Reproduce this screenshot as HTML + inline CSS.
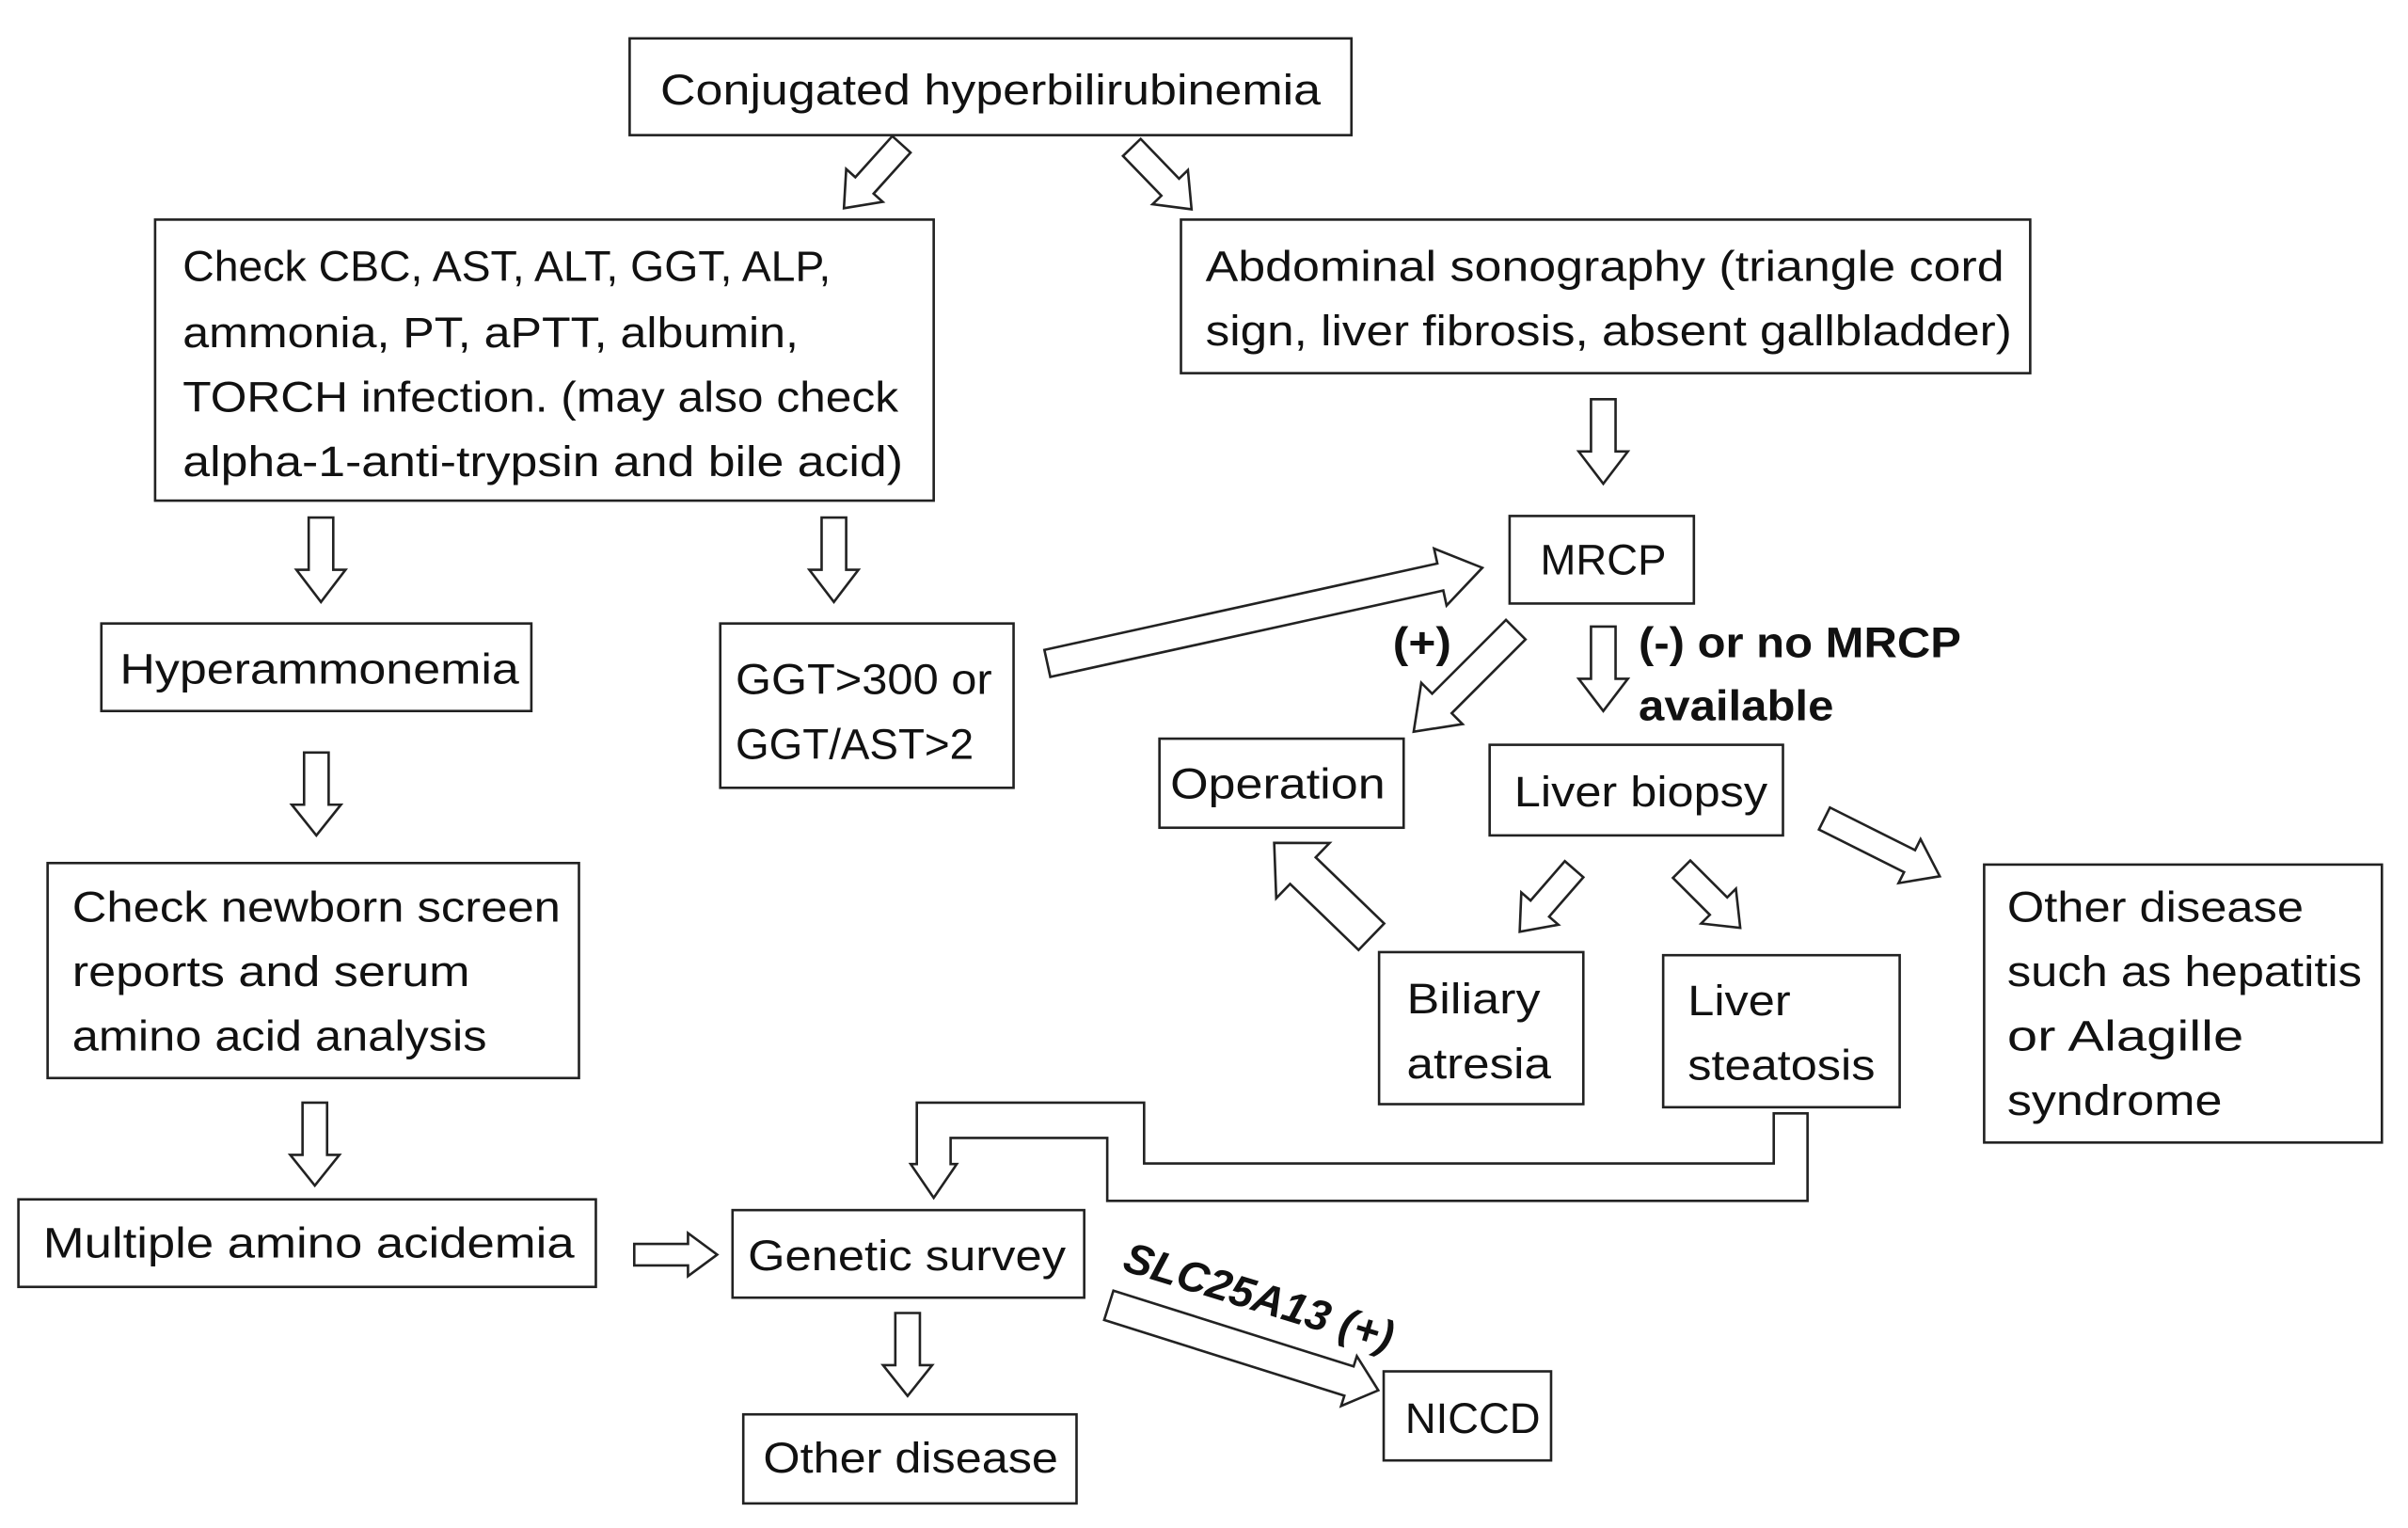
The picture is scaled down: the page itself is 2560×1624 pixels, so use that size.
<!DOCTYPE html>
<html><head><meta charset="utf-8"><style>
html,body{margin:0;padding:0;background:#fff;}
svg{display:block;}
text{font-family:"Liberation Sans","DejaVu Sans",sans-serif;font-size:28px;fill:#111;}
.b{font-weight:bold;}
rect{fill:#fff;stroke:#222;stroke-width:1.6;}
.a{fill:#fff;stroke:#222;stroke-width:1.6;stroke-linejoin:miter;}
</style></head><body>
<svg width="2560" height="1624" viewBox="0 0 1568 995" preserveAspectRatio="none" xmlns="http://www.w3.org/2000/svg">
<rect x="410" y="25" width="470" height="63"/>
<text x="430" y="68" textLength="430" lengthAdjust="spacingAndGlyphs">Conjugated hyperbilirubinemia</text>

<rect x="101" y="143" width="507" height="183"/>
<text x="119" y="183" textLength="422" lengthAdjust="spacingAndGlyphs">Check CBC, AST, ALT, GGT, ALP,</text>
<text x="119" y="226" textLength="401" lengthAdjust="spacingAndGlyphs">ammonia, PT, aPTT, albumin,</text>
<text x="119" y="268" textLength="466" lengthAdjust="spacingAndGlyphs">TORCH infection. (may also check</text>
<text x="119" y="310" textLength="469" lengthAdjust="spacingAndGlyphs">alpha-1-anti-trypsin and bile acid)</text>

<rect x="769" y="143" width="553" height="100"/>
<text x="785" y="183" textLength="520" lengthAdjust="spacingAndGlyphs">Abdominal sonography (triangle cord</text>
<text x="785" y="225" textLength="525" lengthAdjust="spacingAndGlyphs">sign, liver fibrosis, absent gallbladder)</text>

<rect x="983" y="336" width="120" height="57"/>
<text x="1003" y="374" textLength="82" lengthAdjust="spacingAndGlyphs">MRCP</text>

<rect x="66" y="406" width="280" height="57"/>
<text x="78" y="445" textLength="260" lengthAdjust="spacingAndGlyphs">Hyperammonemia</text>

<rect x="469" y="406" width="191" height="107"/>
<text x="479" y="452" textLength="167" lengthAdjust="spacingAndGlyphs">GGT&gt;300 or</text>
<text x="479" y="494" textLength="155" lengthAdjust="spacingAndGlyphs">GGT/AST&gt;2</text>

<rect x="755" y="481" width="159" height="58"/>
<text x="762" y="520" textLength="140" lengthAdjust="spacingAndGlyphs">Operation</text>

<rect x="970" y="485" width="191" height="59"/>
<text x="986" y="525" textLength="165" lengthAdjust="spacingAndGlyphs">Liver biopsy</text>

<rect x="1292" y="563" width="259" height="181"/>
<text x="1307" y="600" textLength="193" lengthAdjust="spacingAndGlyphs">Other disease</text>
<text x="1307" y="642" textLength="231" lengthAdjust="spacingAndGlyphs">such as hepatitis</text>
<text x="1307" y="684" textLength="154" lengthAdjust="spacingAndGlyphs">or Alagille</text>
<text x="1307" y="726" textLength="140" lengthAdjust="spacingAndGlyphs">syndrome</text>

<rect x="898" y="620" width="133" height="99"/>
<text x="916" y="660" textLength="87" lengthAdjust="spacingAndGlyphs">Biliary</text>
<text x="916" y="702" textLength="94" lengthAdjust="spacingAndGlyphs">atresia</text>

<rect x="1083" y="622" width="154" height="99"/>
<text x="1099" y="661" textLength="67" lengthAdjust="spacingAndGlyphs">Liver</text>
<text x="1099" y="703" textLength="122" lengthAdjust="spacingAndGlyphs">steatosis</text>

<rect x="31" y="562" width="346" height="140"/>
<text x="47" y="600" textLength="318" lengthAdjust="spacingAndGlyphs">Check newborn screen</text>
<text x="47" y="642" textLength="259" lengthAdjust="spacingAndGlyphs">reports and serum</text>
<text x="47" y="684" textLength="270" lengthAdjust="spacingAndGlyphs">amino acid analysis</text>

<rect x="12" y="781" width="376" height="57"/>
<text x="28" y="819" textLength="346" lengthAdjust="spacingAndGlyphs">Multiple amino acidemia</text>

<rect x="477" y="788" width="229" height="57"/>
<text x="487" y="827" textLength="207" lengthAdjust="spacingAndGlyphs">Genetic survey</text>

<rect x="484" y="921" width="217" height="58"/>
<text x="497" y="959" textLength="192" lengthAdjust="spacingAndGlyphs">Other disease</text>

<rect x="901" y="893" width="109" height="58"/>
<text x="915" y="933" textLength="88" lengthAdjust="spacingAndGlyphs">NICCD</text>

<text class="b" x="907" y="428" textLength="38" lengthAdjust="spacingAndGlyphs">(+)</text>
<text class="b" x="1067" y="428" textLength="210" lengthAdjust="spacingAndGlyphs">(-) or no MRCP</text>
<text class="b" x="1067" y="469" textLength="127" lengthAdjust="spacingAndGlyphs">available</text>
<text class="b" x="0" y="0" font-style="italic" textLength="182" lengthAdjust="spacingAndGlyphs" transform="translate(730,827) rotate(17)">SLC25A13 (+)</text>

<polygon class="a" transform="translate(587,94) rotate(132)" points="0,-8 36,-8 36,-16 56,0 36,16 36,8 0,8"/>
<polygon class="a" transform="translate(737,96) rotate(46)" points="0,-8 36,-8 36,-16 56,0 36,16 36,8 0,8"/>
<polygon class="a" transform="translate(1044,260) rotate(90)" points="0,-8 34,-8 34,-16 55,0 34,16 34,8 0,8"/>
<polygon class="a" transform="translate(209,337) rotate(90)" points="0,-8 34,-8 34,-16 55,0 34,16 34,8 0,8"/>
<polygon class="a" transform="translate(543,337) rotate(90)" points="0,-8 34,-8 34,-16 55,0 34,16 34,8 0,8"/>
<polygon class="a" transform="translate(1044,408) rotate(90)" points="0,-8 34,-8 34,-16 55,0 34,16 34,8 0,8"/>
<polygon class="a" transform="translate(206,490) rotate(90)" points="0,-8 34,-8 34,-16 54,0 34,16 34,8 0,8"/>
<polygon class="a" transform="translate(205,718) rotate(90)" points="0,-8 34,-8 34,-16 54,0 34,16 34,8 0,8"/>
<polygon class="a" transform="translate(591,855) rotate(90)" points="0,-8 34,-8 34,-16 54,0 34,16 34,8 0,8"/>
<polygon class="a" transform="translate(413,817)" points="0,-7 35,-7 35,-14 54,0 35,14 35,7 0,7"/>
<polygon class="a" transform="translate(682,432) rotate(-12.4)" points="0,-9 262,-9 262,-19 290,0 262,19 262,9 0,9"/>
<polygon class="a" transform="translate(987,410) rotate(135)" points="0,-9 68,-9 68,-19 94,0 68,19 68,9 0,9"/>
<polygon class="a" transform="translate(1188,533) rotate(26.6)" points="0,-8 62,-8 62,-16 84,0 62,16 62,8 0,8"/>
<polygon class="a" transform="translate(1025,566) rotate(131)" points="0,-8 34,-8 34,-16 54,0 34,16 34,8 0,8"/>
<polygon class="a" transform="translate(1095,566) rotate(45)" points="0,-8 34,-8 34,-16 54,0 34,16 34,8 0,8"/>
<polygon class="a" transform="translate(893,610) rotate(-136)" points="0,-12 62,-12 62,-25 88,0 62,25 62,12 0,12"/>
<polygon class="a" transform="translate(722,850) rotate(17.5)" points="0,-10 164,-10 164,-17 184,0 164,17 164,10 0,10"/>
<path class="a" d="M1155,725 L1155,757.6 L745,757.6 L745,718 L597,718 L597,758 L593,758 L608,780 L623,758 L619,758 L619,741 L721,741 L721,782 L1177,782 L1177,725 Z"/>
</svg>
</body></html>
